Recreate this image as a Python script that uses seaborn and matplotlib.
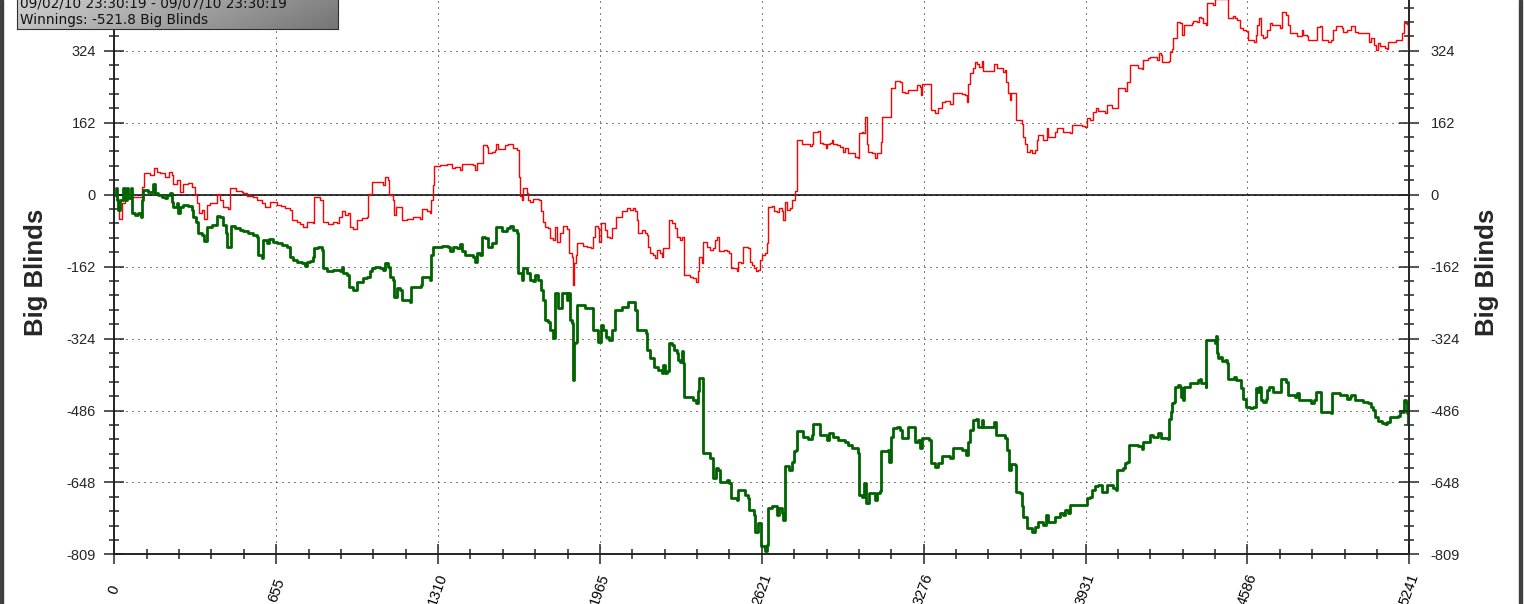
import numpy as np
import pandas as pd
import matplotlib
matplotlib.use("Agg")
import matplotlib.pyplot as plt
import seaborn as sns
from matplotlib.patches import Rectangle
from matplotlib.ticker import FixedLocator, MultipleLocator

# ---------------- data (hands played, big blinds) ----------------
hands_red = [0, 10, 20, 30, 43, 63, 111, 113, 121, 144, 162, 171, 185, 205, 223, 232, 239, 252, 266, 279,
             300, 313, 327, 336, 344, 354, 364, 374, 387, 408, 417, 428, 438, 461, 470, 492, 515, 522, 536, 563,
             576, 596, 610, 630, 657, 673, 691, 711, 718, 738, 752, 765, 778, 805, 810, 832, 846, 866, 886, 900,
             911, 920, 934, 947, 954, 967, 981, 1001, 1021, 1028, 1042, 1062, 1089, 1095, 1109, 1113, 1129, 1132, 1140, 1159,
             1163, 1183, 1210, 1237, 1244, 1264, 1278, 1282, 1291, 1295, 1318, 1345, 1365, 1379, 1399, 1406, 1426, 1453, 1460, 1466,
             1480, 1491, 1507, 1514, 1527, 1541, 1545, 1554, 1574, 1581, 1595, 1608, 1615, 1628, 1638, 1642, 1649, 1655, 1669, 1676,
             1682, 1696, 1720, 1725, 1736, 1743, 1757, 1763, 1774, 1784, 1790, 1804, 1815, 1831, 1841, 1851, 1855, 1860, 1868, 1874,
             1898, 1912, 1928, 1936, 1945, 1959, 1963, 1970, 1986, 1995, 2006, 2013, 2029, 2053, 2074, 2087, 2100, 2107, 2114, 2121,
             2134, 2148, 2154, 2161, 2168, 2181, 2188, 2195, 2208, 2215, 2222, 2242, 2246, 2256, 2269, 2276, 2289, 2296, 2303, 2307,
             2330, 2343, 2354, 2361, 2368, 2377, 2384, 2397, 2411, 2424, 2431, 2440, 2449, 2467, 2478, 2489, 2494, 2519, 2525, 2535,
             2546, 2566, 2573, 2579, 2589, 2597, 2606, 2613, 2620, 2633, 2640, 2647, 2660, 2670, 2681, 2691, 2701, 2708, 2714, 2724,
             2735, 2741, 2755, 2762, 2764, 2775, 2782, 2815, 2822, 2829, 2849, 2856, 2869, 2880, 2886, 2896, 2903, 2910, 2923, 2937,
             2950, 2957, 2971, 2984, 2998, 3011, 3015, 3025, 3031, 3037, 3042, 3045, 3052, 3065, 3079, 3085, 3099, 3103, 3106, 3143,
             3159, 3179, 3186, 3200, 3213, 3233, 3247, 3260, 3263, 3267, 3301, 3304, 3321, 3335, 3348, 3362, 3382, 3395, 3429, 3443,
             3449, 3456, 3463, 3474, 3483, 3492, 3501, 3510, 3517, 3550, 3560, 3571, 3598, 3604, 3608, 3618, 3625, 3631, 3641, 3649,
             3672, 3679, 3685, 3692, 3706, 3716, 3726, 3733, 3739, 3760, 3773, 3780, 3793, 3807, 3814, 3834, 3840, 3867, 3874, 3915,
             3928, 3935, 3948, 3962, 3975, 3982, 4009, 4016, 4036, 4056, 4063, 4090, 4100, 4110, 4144, 4158, 4164, 4185, 4191, 4218,
             4229, 4238, 4242, 4269, 4272, 4279, 4283, 4292, 4299, 4312, 4319, 4323, 4329, 4360, 4366, 4380, 4391, 4400, 4407, 4418,
             4423, 4441, 4445, 4454, 4495, 4508, 4522, 4528, 4535, 4544, 4555, 4569, 4582, 4589, 4612, 4620, 4623, 4634, 4639, 4647,
             4656, 4666, 4677, 4687, 4717, 4724, 4741, 4751, 4758, 4785, 4787, 4805, 4812, 4825, 4832, 4852, 4866, 4879, 4886, 4913,
             4926, 4933, 4946, 4967, 4973, 4987, 5007, 5021, 5034, 5075, 5079, 5088, 5098, 5106, 5115, 5122, 5142, 5149, 5156, 5189,
             5203, 5210, 5219, 5230, 5236, 5241]
bb_red = [0, -12, -56, -20, -8, -6, -6, 18, 48, 44, 59, 52, 48, 40, 52, 44, 25, 33, 7, 25,
          27, 18, -1, -20, -42, -35, -56, -23, -18, -20, 1, -12, -27, -33, 14, 9, 7, 3, -3, -6,
          -12, -20, -27, -16, -23, -26, -31, -35, -57, -61, -66, -74, -61, -63, -6, -12, -61, -66, -61, -65,
          -50, -38, -46, -42, -72, -78, -57, -53, -50, 1, 29, 29, 22, 40, 34, -1, -12, -46, -27, -28,
          -57, -56, -51, -56, -33, -38, -42, -12, 22, 64, 67, 69, 59, 63, 55, 70, 70, 67, 55, 72,
          72, 112, 108, 93, 97, 100, 115, 102, 102, 112, 115, 114, 104, 100, 40, -4, -12, 14, 4, -12,
          -16, -10, -12, -38, -61, -72, -76, -98, -102, -72, -106, -87, -71, -78, -132, -140, -203, -155, -136, -110,
          -116, -117, -121, -95, -71, -76, -106, -65, -80, -95, -98, -76, -50, -38, -31, -35, -31, -38, -57, -87,
          -80, -87, -91, -117, -132, -136, -143, -125, -132, -140, -121, -121, -57, -65, -76, -95, -102, -95, -96, -181,
          -185, -188, -196, -173, -140, -155, -106, -117, -125, -121, -102, -96, -128, -125, -128, -132, -166, -173, -151, -155,
          -117, -121, -151, -158, -166, -173, -170, -147, -136, -132, -110, -29, -25, -38, -40, -31, -38, -57, -16, -35,
          -31, -11, 9, 10, 124, 123, 114, 109, 114, 142, 144, 117, 114, 104, 114, 117, 124, 115, 112, 108,
          97, 104, 94, 93, 84, 82, 138, 142, 138, 175, 175, 115, 97, 93, 82, 93, 93, 119, 175, 239,
          256, 254, 232, 228, 235, 235, 247, 243, 224, 250, 250, 190, 183, 194, 209, 211, 205, 228, 226, 224,
          209, 250, 273, 284, 299, 295, 288, 301, 279, 279, 294, 284, 277, 280, 254, 228, 213, 229, 228, 168,
          160, 130, 115, 97, 100, 93, 100, 123, 134, 124, 151, 130, 130, 142, 149, 151, 142, 138, 157, 154,
          153, 172, 168, 187, 194, 189, 184, 202, 194, 194, 239, 234, 254, 292, 286, 282, 303, 307, 310, 303,
          318, 314, 299, 301, 322, 327, 352, 352, 389, 387, 386, 359, 382, 387, 391, 389, 400, 397, 387, 382,
          432, 432, 427, 440, 440, 397, 397, 402, 397, 393, 374, 370, 369, 348, 344, 359, 382, 397, 359, 352,
          355, 370, 387, 382, 374, 410, 404, 382, 363, 364, 357, 370, 359, 357, 349, 349, 378, 379, 348, 344,
          348, 370, 379, 374, 367, 370, 379, 367, 363, 363, 344, 352, 337, 325, 342, 334, 329, 327, 344, 348,
          349, 364, 387, 384, 329, 329]

hands_green = [0, 5, 10, 16, 23, 37, 43, 50, 57, 68, 72, 84, 97, 107, 111, 118, 138, 151, 158, 165,
               178, 192, 205, 212, 225, 232, 239, 252, 259, 266, 279, 300, 313, 320, 331, 340, 354, 363, 374, 394,
               408, 414, 428, 441, 452, 457, 468, 471, 488, 509, 522, 542, 563, 576, 583, 596, 603, 617, 627, 644,
               657, 677, 698, 711, 724, 738, 758, 772, 778, 792, 805, 808, 826, 839, 846, 859, 886, 913, 920, 927,
               940, 951, 967, 981, 994, 1008, 1021, 1035, 1042, 1055, 1075, 1089, 1095, 1109, 1116, 1127, 1132, 1143, 1156, 1163,
               1197, 1199, 1230, 1240, 1244, 1278, 1282, 1288, 1325, 1352, 1359, 1372, 1386, 1399, 1406, 1419, 1440, 1453, 1460, 1466,
               1480, 1487, 1500, 1514, 1527, 1541, 1545, 1568, 1581, 1588, 1601, 1615, 1628, 1635, 1649, 1655, 1669, 1682, 1696, 1703,
               1716, 1725, 1736, 1743, 1757, 1763, 1777, 1784, 1797, 1810, 1824, 1831, 1837, 1844, 1851, 1855, 1860, 1868, 1874, 1905,
               1932, 1936, 1952, 1959, 1968, 1979, 1990, 2003, 2013, 2026, 2053, 2074, 2080, 2094, 2107, 2114, 2117, 2141, 2152, 2157,
               2168, 2181, 2184, 2202, 2215, 2219, 2229, 2238, 2246, 2256, 2265, 2276, 2280, 2289, 2296, 2300, 2306, 2343, 2354, 2361,
               2366, 2381, 2384, 2411, 2422, 2424, 2435, 2445, 2451, 2478, 2489, 2494, 2519, 2525, 2552, 2566, 2570, 2589, 2593, 2606,
               2616, 2617, 2633, 2640, 2647, 2660, 2681, 2691, 2701, 2708, 2714, 2732, 2741, 2751, 2759, 2764, 2789, 2809, 2822, 2829,
               2849, 2856, 2883, 2894, 2910, 2930, 2957, 2971, 2984, 3011, 3015, 3025, 3034, 3042, 3056, 3079, 3088, 3099, 3101, 3132,
               3136, 3143, 3152, 3166, 3179, 3186, 3200, 3213, 3227, 3240, 3254, 3260, 3267, 3298, 3304, 3321, 3335, 3348, 3382, 3395,
               3429, 3447, 3456, 3463, 3476, 3487, 3496, 3510, 3517, 3550, 3560, 3568, 3604, 3611, 3622, 3631, 3645, 3649, 3665, 3672,
               3679, 3692, 3716, 3726, 3739, 3760, 3770, 3780, 3793, 3807, 3827, 3840, 3847, 3861, 3867, 3921, 3935, 3948, 3955, 3969,
               3982, 3996, 4016, 4043, 4054, 4059, 4083, 4090, 4100, 4108, 4144, 4158, 4164, 4191, 4204, 4218, 4225, 4238, 4265, 4269,
               4275, 4279, 4288, 4292, 4306, 4315, 4319, 4323, 4326, 4329, 4353, 4387, 4393, 4400, 4418, 4420, 4454, 4458, 4461, 4468,
               4474, 4485, 4495, 4504, 4508, 4531, 4539, 4544, 4558, 4569, 4582, 4596, 4609, 4620, 4625, 4633, 4639, 4650, 4660, 4666,
               4674, 4690, 4717, 4720, 4744, 4751, 4778, 4785, 4795, 4825, 4845, 4855, 4863, 4879, 4882, 4926, 4930, 4960, 4987, 5000,
               5007, 5021, 5054, 5075, 5084, 5095, 5102, 5115, 5129, 5142, 5152, 5162, 5196, 5203, 5210, 5219, 5227, 5232, 5236, 5241]
bb_green = [0, 14, -12, -35, -12, 14, -12, 14, -8, 14, -42, -46, -42, -50, -12, 10, 7, 7, 25, 3,
            -1, -5, -8, -1, 3, -16, -27, -20, -42, -27, -23, -26, -35, -50, -61, -87, -91, -104, -72, -68,
            -68, -48, -50, -68, -87, -117, -117, -71, -76, -80, -83, -87, -91, -95, -136, -143, -102, -110, -101, -106,
            -108, -113, -117, -140, -147, -151, -155, -161, -151, -149, -140, -121, -117, -125, -166, -171, -170, -171, -162, -177,
            -181, -207, -215, -196, -196, -188, -185, -173, -166, -162, -166, -170, -153, -162, -185, -192, -230, -211, -215, -237,
            -241, -207, -207, -203, -185, -192, -136, -117, -116, -117, -128, -117, -121, -111, -128, -136, -136, -140, -151, -132,
            -136, -96, -98, -117, -110, -110, -72, -83, -83, -76, -71, -80, -87, -177, -192, -166, -177, -192, -194, -181,
            -192, -215, -237, -282, -286, -305, -323, -222, -256, -222, -222, -237, -222, -282, -290, -417, -335, -331, -248, -256,
            -256, -305, -305, -331, -293, -305, -320, -327, -305, -260, -252, -252, -241, -241, -260, -271, -305, -305, -312, -350,
            -368, -368, -387, -395, -402, -383, -402, -398, -335, -338, -350, -357, -372, -376, -353, -380, -455, -462, -470, -443,
            -413, -428, -582, -594, -597, -639, -616, -620, -646, -642, -650, -684, -687, -665, -676, -684, -710, -721, -759, -740,
            -762, -792, -803, -788, -706, -702, -721, -706, -717, -732, -612, -620, -601, -578, -575, -533, -545, -551, -541, -516,
            -516, -541, -552, -537, -545, -552, -558, -563, -571, -582, -676, -680, -650, -695, -672, -687, -672, -668, -578, -575,
            -603, -545, -526, -524, -530, -549, -549, -524, -524, -556, -552, -571, -549, -552, -605, -614, -605, -588, -594, -571,
            -575, -586, -556, -530, -507, -504, -522, -507, -522, -522, -511, -541, -549, -575, -620, -606, -609, -669, -672, -702,
            -725, -751, -759, -749, -736, -744, -721, -736, -736, -725, -717, -721, -710, -717, -699, -699, -684, -680, -665, -657,
            -654, -669, -654, -661, -665, -620, -616, -605, -601, -564, -567, -573, -556, -541, -546, -545, -536, -549, -551, -504,
            -489, -470, -466, -432, -428, -432, -455, -436, -462, -432, -425, -417, -414, -425, -432, -327, -335, -318, -357, -368,
            -365, -374, -372, -380, -414, -410, -417, -417, -436, -459, -479, -481, -477, -436, -444, -432, -462, -466, -459, -440,
            -432, -444, -444, -414, -421, -451, -455, -447, -462, -462, -470, -462, -444, -444, -489, -492, -447, -451, -459, -455,
            -451, -462, -466, -470, -477, -485, -500, -509, -515, -516, -511, -500, -498, -486, -489, -462, -466, -492, -516, -521.8]

total_hands = 5241
x_tick_labels = ["0", "655", "1310", "1965", "2621", "3276", "3931", "4586", "5241"]
y_tick_values = [-809, -648, -486, -324, -162, 0, 162, 324]
y_tick_labels = ["-809", "-648", "-486", "-324", "-162", "0", "162", "324"]
date_range_text = "09/02/10 23:30:19 - 09/07/10 23:30:19"
winnings_text = "Winnings: -521.8 Big Blinds"
y_label = "Big Blinds"

# ---------------- style ----------------
sns.set_style("white")
plt.rcParams['font.family'] = ['Liberation Sans', 'DejaVu Sans']
plt.rcParams['axes.linewidth'] = 1.1

W, H = 1524, 604
fig = plt.figure(figsize=(W / 100, H / 100), dpi=100)
fig.patch.set_facecolor("white")

ax = fig.add_axes([114.3 / W, (H - 554) / H, 1295 / W, 564 / H])
ax.set_facecolor("white")
ax.set_xlim(0, total_hands)
ax.set_ylim(-809, 460.6)

df_red = pd.DataFrame({"hands": hands_red, "bb": bb_red})
df_green = pd.DataFrame({"hands": hands_green, "bb": bb_green})
sns.lineplot(data=df_red, x="hands", y="bb", ax=ax, color="#ff0000", linewidth=1.0,
             drawstyle="steps-post", estimator=None, sort=False, legend=False, zorder=3)
sns.lineplot(data=df_green, x="hands", y="bb", ax=ax, color="#006400", linewidth=2.0,
             drawstyle="steps-post", estimator=None, sort=False, legend=False, zorder=4)

ax.axhline(0, color="black", linewidth=1.1, zorder=2)

# x ticks
ax.set_xticks([total_hands * k / 8 for k in range(9)])
ax.set_xticklabels(x_tick_labels)
ax.xaxis.set_minor_locator(FixedLocator([total_hands * k / 40 for k in range(41)]))
ax.tick_params(axis="x", which="major", direction="inout", length=14.4, width=1.1,
               pad=18.5, labelsize=10.5, labelcolor="black", bottom=True)
ax.tick_params(axis="x", which="minor", direction="inout", length=6.5, width=1.1, bottom=True)
for lab in ax.get_xticklabels():
    lab.set_rotation(70)
    lab.set_ha("center")
    lab.set_va("center")

# y ticks (left)
ax.set_yticks(y_tick_values)
ax.set_yticklabels(y_tick_labels)
ax.yaxis.set_minor_locator(MultipleLocator(32.4))
ax.tick_params(axis="y", which="major", direction="inout", length=14.4, width=1.1,
               pad=6, labelsize=10.5, left=True, right=False)
ax.tick_params(axis="y", which="minor", direction="inout", length=6.5, width=1.1, left=True, right=False)

ax.grid(True, which="major", axis="both", color="black", linestyle=(0, (1, 5)), linewidth=0.72)
ax.set_axisbelow(True)

for s in ["left", "right", "bottom"]:
    ax.spines[s].set_visible(True)
    ax.spines[s].set_color("black")
    ax.spines[s].set_linewidth(1.1)
ax.spines["top"].set_visible(False)

ax.set_xlabel("")
ax.set_ylabel(y_label, fontsize=18.5, fontweight="bold", va="center")
ax.yaxis.set_label_coords(-(114.3 - 36) / 1295, 0.5)

# right axis
ax2 = ax.twinx()
ax2.set_ylim(ax.get_ylim())
ax2.set_yticks(y_tick_values)
ax2.set_yticklabels(y_tick_labels)
ax2.yaxis.set_minor_locator(MultipleLocator(32.4))
ax2.tick_params(axis="y", which="major", direction="inout", length=14.4, width=1.1,
                pad=8, labelsize=10.5, right=True, left=False)
ax2.tick_params(axis="y", which="minor", direction="inout", length=6.5, width=1.1, right=True, left=False)
ax2.spines["top"].set_visible(False)
ax2.spines["right"].set_linewidth(1.1)
ax2.set_ylabel(y_label, fontsize=18.5, fontweight="bold", va="center", rotation=90)
ax2.yaxis.set_label_coords((1487 - 114.3) / 1295, 0.5)
ax2.grid(False)

# info box (gradient)
box = fig.add_axes([17.3 / W, (H - 29) / H, (337.7 - 17.3) / W, 41 / H])
yy, xx = np.mgrid[0:1:60j, 0:1:200j]
grad = 0.84 - 0.30 * xx - 0.08 * (yy)
box.imshow(grad, aspect="auto", extent=[0, 1, 0, 1], cmap="gray", vmin=0, vmax=1,
           interpolation="bilinear", origin="upper")
box.set_xticks([])
box.set_yticks([])
for s in box.spines.values():
    s.set_color("#303030")
    s.set_linewidth(0.8)

fig.text(19.5 / W, (H - 7.3) / H, date_range_text, fontsize=9.8, family="DejaVu Sans",
         va="baseline", ha="left", color="#111111")
fig.text(19.5 / W, (H - 24) / H, winnings_text, fontsize=9.8, family="DejaVu Sans",
         va="baseline", ha="left", color="#111111")

# window borders
fig.add_artist(Rectangle((0, 0), 3 / W, 1, transform=fig.transFigure, color="#404040", zorder=10))
fig.add_artist(Rectangle((1519 / W, 0), 3 / W, 1, transform=fig.transFigure, color="#404040", zorder=10))

fig.savefig("out.png", dpi=100)
